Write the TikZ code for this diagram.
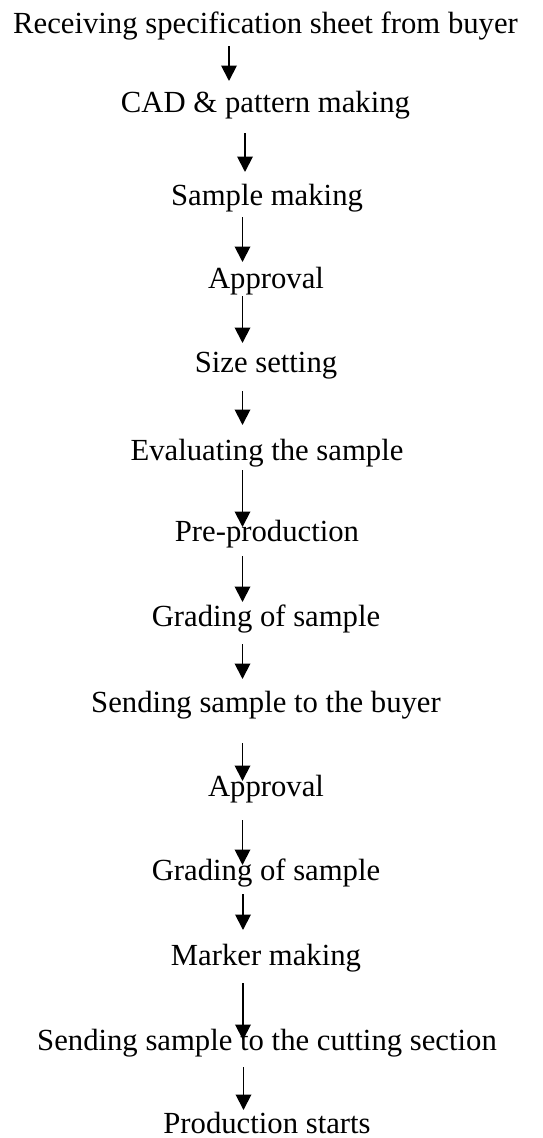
\documentclass[tikz,border=0pt]{standalone}
\usepackage{fontspec}
\setmainfont{Liberation Serif}
\usetikzlibrary{arrows.meta}
\begin{document}
\begin{tikzpicture}[x=1pt,y=-1pt,
  lbl/.style={anchor=base,inner sep=0pt,font=\fontsize{30.7}{36}\selectfont},
  arr/.style={line width=1.9pt,-{Triangle[width=15.5pt,length=15.5pt]}}]
\useasboundingbox (0,0) rectangle (542,1138);
\node[lbl] (t1) at (265.5,33) {Receiving specification sheet from buyer};
\node[lbl] (t2) at (265.5,112) {CAD \& pattern making};
\node[lbl] (t3) at (267,205) {Sample making};
\node[lbl] (t4) at (266,288) {Approval};
\node[lbl] (t5) at (266,372) {Size setting};
\node[lbl] (t6) at (267,460) {Evaluating the sample};
\node[lbl] (t7) at (267,541) {Pre-production};
\node[lbl] (t8) at (266,626) {Grading of sample};
\node[lbl] (t9) at (266,712) {Sending sample to the buyer};
\node[lbl] (t10) at (266,796) {Approval};
\node[lbl] (t11) at (266,880) {Grading of sample};
\node[lbl] (t12) at (266,965) {Marker making};
\node[lbl] (t13) at (267,1050) {Sending sample to the cutting section};
\node[lbl] (t14) at (267,1133) {Production starts};
% arrow end points
\coordinate (s1) at (229,46);  \coordinate (e1) at (229,81);
\coordinate (s2) at (245,133); \coordinate (e2) at (245,172);
\coordinate (s3) at (242.5,217); \coordinate (e3) at (242.5,262);
\coordinate (s4) at (242.5,296); \coordinate (e4) at (242.5,343);
\coordinate (s5) at (242.5,391); \coordinate (e5) at (242.5,425);
\coordinate (s6) at (242.5,470); \coordinate (e6) at (242.5,527);
\coordinate (s7) at (242.5,556); \coordinate (e7) at (242.5,602);
\coordinate (s8) at (242.5,644); \coordinate (e8) at (242.5,679);
\coordinate (s9) at (242.5,743); \coordinate (e9) at (242.5,781);
\coordinate (s10) at (242.5,820); \coordinate (e10) at (242.5,865);
\coordinate (s11) at (243,894); \coordinate (e11) at (243,930);
\coordinate (s12) at (243,983); \coordinate (e12) at (243,1040);
\coordinate (s13) at (243.5,1067); \coordinate (e13) at (243.5,1110);
\foreach \i in {1,...,13} \draw[arr] (s\i) -- (e\i);
\end{tikzpicture}
\end{document}
